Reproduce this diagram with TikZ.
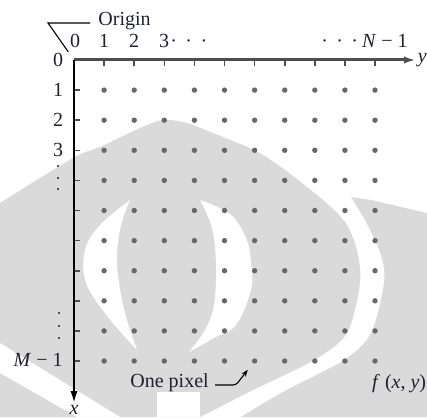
\documentclass[tikz,border=0pt]{standalone}
\usepackage{fontspec}
\setmainfont{Liberation Serif}
\usetikzlibrary{arrows.meta}
\definecolor{wm}{HTML}{DADADA}
\definecolor{dotc}{HTML}{686868}
\definecolor{axc}{HTML}{4E4E4E}
\definecolor{txt}{HTML}{202030}
\begin{document}
\begin{tikzpicture}[x=0.5pt,y=-0.5pt,
  font=\fontsize{10}{12}\selectfont,
  lbl/.style={inner sep=0pt, text=txt},
  pix/.style={circle, fill=dotc, inner sep=0pt, minimum size=2.7pt},
  vdot/.style={circle, fill=txt, inner sep=0pt, minimum size=1.1pt},
  haxis/.style={axc, line width=1.5pt, -{Latex[length=6pt,width=3.6pt]}},
  vaxis/.style={black, line width=1pt, -{Latex[length=6pt,width=3.6pt]}},
  tickmark/.style={axc, line width=0.8pt},
  leader/.style={black, line width=0.55pt}]
\useasboundingbox (0,0) rectangle (427,417);
% watermark
\fill[wm] plot[smooth,tension=0.5] coordinates {(0,203) (73,158) (100,147) (140,128) (163,120) (187,123) (213,133) (254,150) (281,167) (307,187) (331,207) (347,225) (357,250) (360,283) (347,333) (314,360) (247,393) (214,410) (200,417)} -- (0,417) -- cycle;
\fill[wm] plot[smooth,tension=0.5] coordinates {(241,417) (281,393) (344,360) (371,333) (384,283) (381,255) (366,222) (351,197)} -- (371,200) -- (427,213) -- (427,417) -- cycle;
\fill[white] plot[smooth,tension=0.6] coordinates {(130,200) (100,225) (85,250) (86,283) (108,317) (137,350)} -- plot[smooth,tension=0.6] coordinates {(137,350) (126,317) (119,283) (117,255) (121,225) (130,200)} -- cycle;
\fill[white] plot[smooth,tension=0.6] coordinates {(200,200) (230,214) (246,238) (251,262) (251,290) (236,325) (214,338) (189,352)} -- plot[smooth,tension=0.6] coordinates {(189,352) (205,330) (214,305) (216,265) (212,228) (200,200)} -- cycle;
\fill[white] (157,392) rectangle (200,417);
\fill[white] (0,343) -- (120,417) -- (77,417) -- (0,373) -- cycle;
% pixels
\foreach \i in {1,...,10} {
  \foreach \j in {1,...,10} {
    \node[pix] (p\i-\j) at ({74+30.1*\i},{60+30.1*\j}) {};
  }
}
% ticks
\foreach \i in {1,...,10} {
  \draw[tickmark] ({74+30.1*\i},60) -- ++(0,6);
  \draw[tickmark] (74,{60+30.1*\i}) -- ++(6,0);
}
% axes
\coordinate (O) at (74,60);
\coordinate (xend) at (416,60);
\coordinate (yend) at (74,403);
\draw[haxis] (O) -- (xend);
\draw[vaxis] (O) -- (yend);
\node[lbl, anchor=west] (ylab) at (417.5,60) {\textit{y}};
\node[lbl, anchor=north] (xlab) at (74,405) {\textit{x}};
% column labels
\node[lbl, anchor=base] (c0) at (75,47.5) {0};
\node[lbl, anchor=base] (c1) at (104,47.5) {1};
\node[lbl, anchor=base] (c2) at (134,47.5) {2};
\node[lbl, anchor=base] (c3) at (164,47.5) {3};
\node[lbl, anchor=base west] (cdots) at (170,47.5) {·\kern4.2pt·\kern4.2pt·};
\node[lbl, anchor=base east] (cN) at (408,47.5) {·\kern4.2pt·\kern4.2pt·\kern2pt\textit{N} − 1};
% row labels
\node[lbl] (r0) at (58,60) {0};
\node[lbl] (r1) at (58,89.5) {1};
\node[lbl] (r2) at (58,119.5) {2};
\node[lbl] (r3) at (58,150) {3};
\node[vdot] (vd1) at (58,166) {};
\node[vdot] (vd2) at (58,178) {};
\node[vdot] (vd3) at (58,189) {};
\node[vdot] (vd4) at (59,313) {};
\node[vdot] (vd5) at (59,326) {};
\node[vdot] (vd6) at (59,338) {};
\node[lbl, anchor=east] (rM) at (63,360) {\textit{M} − 1};
% origin
\node[lbl, anchor=base west] (orig) at (98,26) {Origin};
\coordinate (ol1) at (48,23);
\draw[leader, shorten >=5pt] ([shift={(-4pt,1.5pt)}]orig.base west) -- (ol1) -- (O);
% one pixel
\node[lbl, anchor=base west] (onepix) at (130,387) {One pixel};
\coordinate (op1) at (236,385);
\draw[leader, rounded corners=1.5pt, shorten >=4pt, -{Stealth[length=3.5pt,width=2.6pt]}] ([shift={(3pt,1pt)}]onepix.base east) -- (op1) -- (p6-10);
% f(x,y)
\node[lbl, anchor=base east] (fxy) at (426.5,388) {\textit{f} (\textit{x}, \textit{y})};
\end{tikzpicture}
\end{document}
